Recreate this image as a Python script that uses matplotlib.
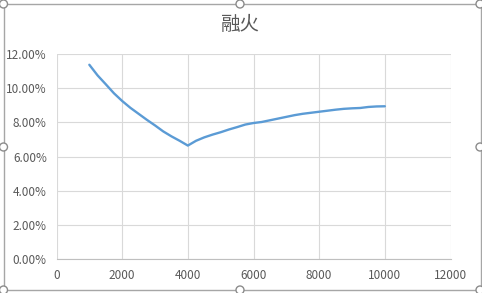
import matplotlib
matplotlib.use('Agg')
import matplotlib.pyplot as plt
from matplotlib.patches import Rectangle, Ellipse
from matplotlib.ticker import FuncFormatter

plt.rcParams['font.family'] = ['Noto Sans CJK SC', 'DejaVu Sans']

# données
x_vals = [1000, 1250, 1500, 1750, 2000, 2250, 2500, 2750, 3000, 3250, 3500, 3750,
          4000, 4250, 4500, 4750, 5000, 5250, 5500, 5750, 6000, 6250, 6500, 6750,
          7000, 7250, 7500, 7750, 8000, 8250, 8500, 8750, 9000, 9250, 9500, 9750, 10000]
y_pct = [11.37, 10.75, 10.23, 9.70, 9.25, 8.85, 8.50, 8.15, 7.82, 7.47, 7.18, 6.92,
         6.64, 6.92, 7.12, 7.28, 7.42, 7.58, 7.72, 7.87, 7.96, 8.02, 8.12, 8.22,
         8.32, 8.42, 8.50, 8.56, 8.62, 8.68, 8.74, 8.79, 8.82, 8.84, 8.90, 8.93, 8.94]
y_vals = [v / 100 for v in y_pct]
title = '融火'
x_ticks = [0, 2000, 4000, 6000, 8000, 10000, 12000]
y_ticks = [0, 0.02, 0.04, 0.06, 0.08, 0.10, 0.12]

W, H = 482, 293
fig = plt.figure(figsize=(W / 100, H / 100), dpi=100)
ax = fig.add_axes([56.5 / W, 1 - 259 / H, 394 / W, 205 / H])

ax.plot(x_vals, y_vals, color='#5B9BD5', linewidth=1.7, solid_capstyle='round')

ax.set_xlim(0, 12000)
ax.set_ylim(0, 0.12)
ax.set_xticks(x_ticks)
ax.set_yticks(y_ticks)
ax.yaxis.set_major_formatter(FuncFormatter(lambda v, p: f'{v * 100:.2f}%'))
ax.grid(True, color='#D9D9D9', linewidth=0.8)
ax.set_axisbelow(True)
for s in ['top', 'right', 'left']:
    ax.spines[s].set_visible(False)
ax.spines['bottom'].set_color('#BFBFBF')
ax.spines['bottom'].set_linewidth(0.8)
ax.tick_params(length=0, labelsize=8.5, labelcolor='#595959', pad=7)

fig.text(240 / W, 1 - 24 / H, title, ha='center', va='center', fontsize=14, color='#595959')

# cadre de sélection façon Excel
fig.patches.append(Rectangle((3.5 / W, 1 - 290 / H), 477 / W, 286.5 / H, transform=fig.transFigure,
                             fill=False, edgecolor='#A6A6A6', linewidth=1))
for hx, hy in [(3.5, 4), (240, 4), (480, 4), (3.5, 147), (480, 147), (3.5, 290), (240, 290), (480, 290)]:
    fig.patches.append(Ellipse((hx / W, 1 - hy / H), 8 / W, 8 / H, transform=fig.transFigure,
                               facecolor='white', edgecolor='#8C8C8C', linewidth=1))

fig.savefig('out.png', dpi=100)
